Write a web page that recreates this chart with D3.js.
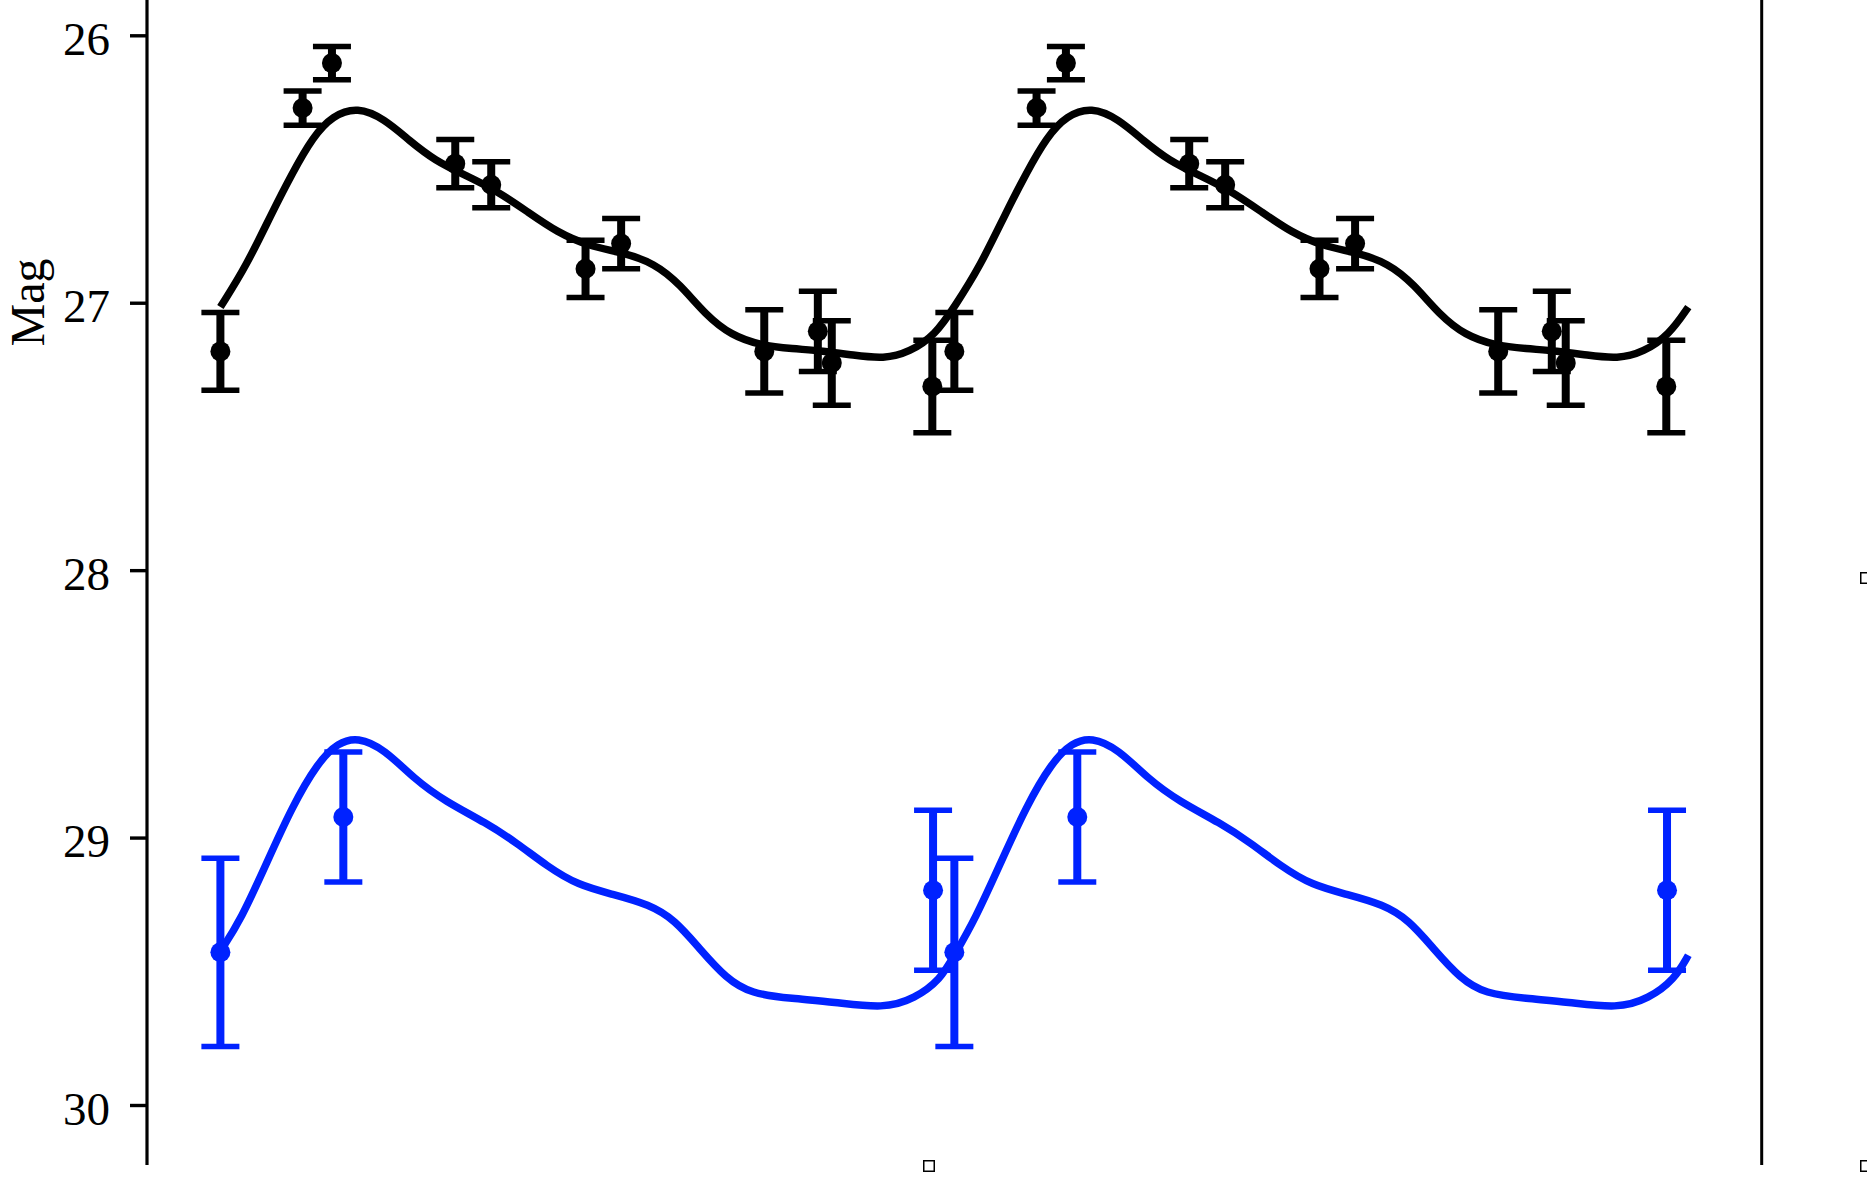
<!DOCTYPE html>
<html>
<head>
<meta charset="utf-8">
<script src="https://cdn.jsdelivr.net/npm/d3@7"></script>
<style>
  html, body { margin: 0; padding: 0; background: #ffffff; }
  svg { display: block; }
</style>
</head>
<body>
<svg id="chart" width="1867" height="1178"></svg>
<script>
// ---------------- data ----------------
const yTicks = [26, 27, 28, 29, 30];
const yLabel = "Mag";

// black band: measured points (one cycle, plotted at phase and phase+1)
const blackPhase = [0.000, 0.112, 0.152, 0.320, 0.369, 0.4975, 0.546, 0.741, 0.814, 0.833, 0.970];
const blackMag   = [27.182, 26.272, 26.104, 26.480, 26.559, 26.873, 26.779, 27.182, 27.107, 27.225, 27.313];
const blackErr   = [0.145, 0.064, 0.062, 0.090, 0.086, 0.107, 0.094, 0.156, 0.150, 0.158, 0.173];

// blue band: measured points
const bluePhase = [0.000, 0.1675, 0.971];
const blueMag   = [29.429, 28.923, 29.197];
const blueErr   = [0.352, 0.243, 0.299];

// fitted template curves (one cycle)
const blackCurvePhase = [0.000, 0.035, 0.070, 0.098, 0.126, 0.153, 0.187, 0.223, 0.258, 0.292, 0.334, 0.376, 0.418, 0.459, 0.501, 0.550, 0.591, 0.626, 0.661, 0.696, 0.737, 0.779, 0.821, 0.862, 0.904, 0.939, 0.974, 1.000];
const blackCurveMag   = [27.016, 26.864, 26.665, 26.515, 26.380, 26.300, 26.268, 26.312, 26.395, 26.468, 26.524, 26.580, 26.659, 26.737, 26.787, 26.814, 26.852, 26.930, 27.045, 27.122, 27.160, 27.172, 27.180, 27.196, 27.210, 27.185, 27.120, 27.016];

const blueCurvePhase = [0.000, 0.028, 0.063, 0.098, 0.133, 0.1605, 0.187, 0.223, 0.265, 0.306, 0.362, 0.404, 0.445, 0.487, 0.536, 0.584, 0.619, 0.654, 0.689, 0.723, 0.779, 0.835, 0.904, 0.946, 0.981, 1.000];
const blueCurveMag   = [29.425, 29.307, 29.095, 28.883, 28.718, 28.645, 28.624, 28.668, 28.783, 28.864, 28.945, 29.020, 29.107, 29.178, 29.213, 29.250, 29.307, 29.419, 29.526, 29.584, 29.602, 29.614, 29.640, 29.602, 29.531, 29.440];

const cycles = [0, 1];

// ---------------- layout / style ----------------
const W = 1867, H = 1178;
const plotLeft = 147, plotRight = 1761.7;
const spineTop = 0, spineBottom = 1165;
const xDomain = [-0.1, 2.1];
const yDomain = [26, 30];
const yRange = [35.3, 1105];

const colBlack = "#000000";
const colBlue = "#0022ff";
const fontFam = "'Liberation Serif', 'Times New Roman', serif";

const svg = d3.select("#chart");
svg.append("rect").attr("width", W).attr("height", H).attr("fill", "#ffffff");

const x = d3.scaleLinear().domain(xDomain).range([plotLeft, plotRight]);
const y = d3.scaleLinear().domain(yDomain).range(yRange);

// ---------------- helpers ----------------
function expandPoints(ph, mg, er) {
  const out = [];
  cycles.forEach(c => ph.forEach((p, i) => out.push({ p: p + c, m: mg[i], e: er[i] })));
  return out;
}
function expandCurve(ph, mg) {
  const out = [];
  cycles.forEach((c, k) => ph.forEach((p, i) => {
    if (k > 0 && i === 0) return; // skip duplicated joint
    out.push({ p: p + c, m: mg[i] });
  }));
  return out;
}

const line = d3.line()
  .x(d => x(d.p))
  .y(d => y(d.m))
  .curve(d3.curveBasis);

// ---------------- curves ----------------
const curves = [
  { data: expandCurve(blackCurvePhase, blackCurveMag), color: colBlack },
  { data: expandCurve(blueCurvePhase, blueCurveMag), color: colBlue }
];
svg.append("g").selectAll("path").data(curves).join("path")
  .attr("d", d => line(d.data))
  .attr("fill", "none")
  .attr("stroke", d => d.color)
  .attr("stroke-width", 7.5)
  .attr("stroke-linejoin", "round");

// ---------------- error bars ----------------
const capHalf = 19;
function drawErrors(data, color) {
  const g = svg.append("g");
  const grp = g.selectAll("g").data(data).join("g");
  grp.append("line")
    .attr("x1", d => x(d.p)).attr("x2", d => x(d.p))
    .attr("y1", d => y(d.m - d.e)).attr("y2", d => y(d.m + d.e))
    .attr("stroke", color).attr("stroke-width", 8);
  grp.append("line")
    .attr("x1", d => x(d.p) - capHalf).attr("x2", d => x(d.p) + capHalf)
    .attr("y1", d => y(d.m - d.e)).attr("y2", d => y(d.m - d.e))
    .attr("stroke", color).attr("stroke-width", 5.5);
  grp.append("line")
    .attr("x1", d => x(d.p) - capHalf).attr("x2", d => x(d.p) + capHalf)
    .attr("y1", d => y(d.m + d.e)).attr("y2", d => y(d.m + d.e))
    .attr("stroke", color).attr("stroke-width", 5.5);
  grp.append("circle")
    .attr("cx", d => x(d.p)).attr("cy", d => y(d.m))
    .attr("r", 10).attr("fill", color);
}
drawErrors(expandPoints(blackPhase, blackMag, blackErr), colBlack);
drawErrors(expandPoints(bluePhase, blueMag, blueErr), colBlue);

// ---------------- axes ----------------
svg.append("line")
  .attr("x1", plotLeft).attr("x2", plotLeft)
  .attr("y1", spineTop).attr("y2", spineBottom)
  .attr("stroke", "#000").attr("stroke-width", 3.2);
svg.append("line")
  .attr("x1", plotRight).attr("x2", plotRight)
  .attr("y1", spineTop).attr("y2", spineBottom)
  .attr("stroke", "#000").attr("stroke-width", 3);

const yAxis = d3.axisLeft(y).tickValues(yTicks).tickSize(17).tickPadding(20).tickFormat(d3.format("d"));
const ga = svg.append("g").attr("transform", `translate(${plotLeft},0)`).call(yAxis);
ga.select(".domain").remove();
ga.selectAll(".tick line").attr("stroke", "#000").attr("stroke-width", 3.4);
ga.selectAll(".tick text")
  .attr("font-family", fontFam)
  .attr("font-size", 47)
  .attr("fill", "#000")
  .attr("dy", null)
  .attr("dominant-baseline", "central")
  .attr("transform", "translate(0,3)");

// y label
svg.append("text")
  .attr("transform", `translate(43.5,302.5) rotate(-90)`)
  .attr("text-anchor", "middle")
  .attr("font-family", fontFam)
  .attr("font-size", 48)
  .attr("fill", "#000")
  .text(yLabel);

// small clipped square markers from neighbouring panels
const squares = [[923, 1160], [1860, 572], [1860, 1160]];
svg.append("g").selectAll("rect").data(squares).join("rect")
  .attr("x", d => d[0] + 0.75).attr("y", d => d[1] + 0.75)
  .attr("width", 10.5).attr("height", 10.5)
  .attr("fill", "#fff").attr("stroke", "#000").attr("stroke-width", 1.5);
</script>
</body>
</html>
